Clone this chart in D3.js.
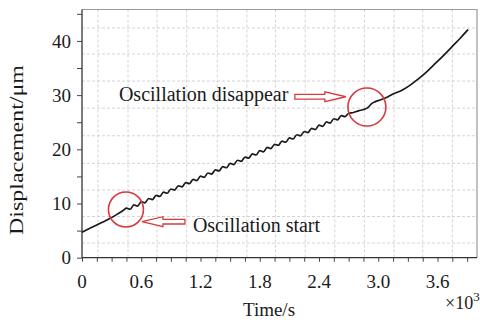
<!DOCTYPE html>
<html><head><meta charset="utf-8">
<script src="https://cdn.jsdelivr.net/npm/d3@7"></script>
<style>body{margin:0;background:#fff}svg{display:block}text{font-family:"Liberation Serif","Times New Roman",serif;fill:#1a1a1a}</style>
</head><body><svg id="c" width="480" height="325"></svg>
<script>
// time in 10^3 s
const timeK = [0,0.1,0.2,0.3,0.38,0.42,
0.45,0.4875,0.525,0.5625,0.6,0.6375,0.675,0.7125,0.75,0.7875,0.825,0.8625,0.9,0.9375,0.975,1.0125,1.05,1.0875,1.125,1.1625,1.2,1.2375,1.275,1.3125,1.35,1.3875,1.425,1.4625,1.5,1.5375,1.575,1.6125,1.65,1.6875,1.725,1.7625,1.8,1.8375,1.875,1.9125,1.95,1.9875,2.025,2.0625,2.1,2.1375,2.175,2.2125,2.25,2.2875,2.325,2.3625,2.4,2.4375,2.475,2.5125,2.55,2.5875,2.625,2.6625,2.7,
2.75,2.8,2.86,2.9,2.93,2.97,3.02,3.1,3.15,3.24,3.32,3.4,3.49,3.57,3.66,3.75,3.83,3.91];
// displacement in µm
const displacement = [4.7,5.6,6.5,7.4,8.3,8.75,
9.15,8.94,9.74,9.53,10.33,10.12,10.92,10.71,11.51,11.30,12.09,11.89,12.68,12.48,13.27,13.07,13.86,13.66,14.45,14.24,15.04,14.83,15.63,15.42,16.22,16.01,16.80,16.60,17.39,17.19,17.98,17.78,18.57,18.37,19.16,18.95,19.75,19.54,20.34,20.13,20.93,20.72,21.51,21.31,22.10,21.90,22.69,22.49,23.28,23.08,23.87,23.66,24.46,24.25,25.05,24.84,25.64,25.43,26.22,26.02,26.65,
26.8,27.1,27.4,27.8,28.4,28.8,29.1,29.7,30.2,30.9,31.8,32.9,34.3,35.7,37.3,39.0,40.5,42.1];
const xTickLabels = ["0","0.6","1.2","1.8","2.4","3.0","3.6"];
const xTickValues = [0,0.6,1.2,1.8,2.4,3.0,3.6];
const yTickValues = [0,10,20,30,40];
const xGrid = [0.162,0.466,0.76,1.06,1.37,1.67,1.96,2.26,2.56,2.86,3.16,3.45,3.75];
const yGrid = [2.7,7.6,12.5,17.4,22.5,27.6,32.6,37.6,42.4];
const circles = [{t:0.445,v:8.9,r:17.5},{t:2.885,v:27.8,r:19}];
const labels = [{t:1.123,v:4.8,text:"Oscillation start"},{t:0.374,v:29.0,text:"Oscillation disappear"}];
const arrows = [{t:0.607,v:6.64,dir:-1,len:43},{t:2.672,v:29.7,dir:1,len:51}];

const svg = d3.select("#c");
const L=82,R=477,T=9.5,B=257.7;
const x = d3.scaleLinear().domain([0,4.0]).range([L,R]);
const y = d3.scaleLinear().domain([0,45.8]).range([B,T]);

// grid
svg.append("g").selectAll("line").data(xGrid).join("line")
  .attr("x1",d=>x(d)).attr("x2",d=>x(d)).attr("y1",T).attr("y2",B)
  .attr("stroke","#d4d4d4").attr("stroke-width",1).attr("stroke-dasharray","3,2");
svg.append("g").selectAll("line").data(yGrid).join("line")
  .attr("y1",d=>y(d)).attr("y2",d=>y(d)).attr("x1",L).attr("x2",R)
  .attr("stroke","#d4d4d4").attr("stroke-width",1).attr("stroke-dasharray","3,2");

// frame top/right
svg.append("path").attr("d",`M${L},${T}H${R}V${B}`).attr("fill","none").attr("stroke","#999").attr("stroke-width",1.2);

// axes
const xAxis = d3.axisBottom(x).tickValues(d3.range(0,3.91,0.15)).tickSize(4).tickFormat("");
const gx = svg.append("g").attr("transform",`translate(0,${B})`).call(xAxis);
const yAxis = d3.axisLeft(y).tickValues(d3.range(0,46,5)).tickSize(5).tickFormat("");
const gy = svg.append("g").attr("transform",`translate(${L},0)`).call(yAxis);
[gx,gy].forEach(g=>{g.selectAll("path").attr("stroke","#333").attr("stroke-width",1.3);g.selectAll("line").attr("stroke","#444");});
gx.select(".domain").attr("d",`M${L},0H${R}`);
gy.select(".domain").attr("d",`M0,${B}V${T}`);

svg.append("g").selectAll("text").data(xTickValues).join("text")
  .attr("x",d=>x(d)).attr("y",288).attr("text-anchor","middle").attr("font-size",19)
  .text((d,i)=>xTickLabels[i]);
svg.append("g").selectAll("text").data(yTickValues).join("text")
  .attr("x",L-11).attr("y",d=>y(d)).attr("dy","0.35em").attr("text-anchor","end").attr("font-size",19)
  .text(d=>d);

// titles
svg.append("text").attr("x",269).attr("y",316).attr("text-anchor","middle").attr("font-size",19).text("Time/s");
const sx = svg.append("text").attr("x",445).attr("y",309).attr("font-size",18);
sx.append("tspan").text("×10");
sx.append("tspan").attr("dy",-8).attr("font-size",13).text("3");
svg.append("text").attr("transform","translate(23,150) rotate(-90)").attr("text-anchor","middle")
  .attr("font-size",19).attr("textLength",170).attr("lengthAdjust","spacingAndGlyphs").text("Displacement/μm");

// curve
const pts = timeK.map((t,i)=>[t,displacement[i]]);
svg.append("path").datum(pts)
  .attr("d",d3.line().x(d=>x(d[0])).y(d=>y(d[1])).curve(d3.curveMonotoneX))
  .attr("fill","none").attr("stroke","#1a1a1a").attr("stroke-width",1.7);

// annotations
svg.append("g").selectAll("circle").data(circles).join("circle")
  .attr("cx",d=>x(d.t)).attr("cy",d=>y(d.v)).attr("r",d=>d.r)
  .attr("fill","none").attr("stroke","#d83a3f").attr("stroke-width",1.6);
svg.append("g").selectAll("path").data(arrows).join("path")
  .attr("transform",d=>`translate(${x(d.t)},${y(d.v)}) scale(${-d.dir},1)`)
  .attr("d",d=>`M0,0L21,-5L21,-2.3L${d.len},-2.3L${d.len},2.3L21,2.3L21,5Z`)
  .attr("fill","#fff").attr("stroke","#d83a3f").attr("stroke-width",1.3);
svg.append("g").selectAll("text").data(labels).join("text")
  .attr("x",d=>x(d.t)).attr("y",d=>y(d.v)).attr("font-size",20).text(d=>d.text);
</script></body></html>
